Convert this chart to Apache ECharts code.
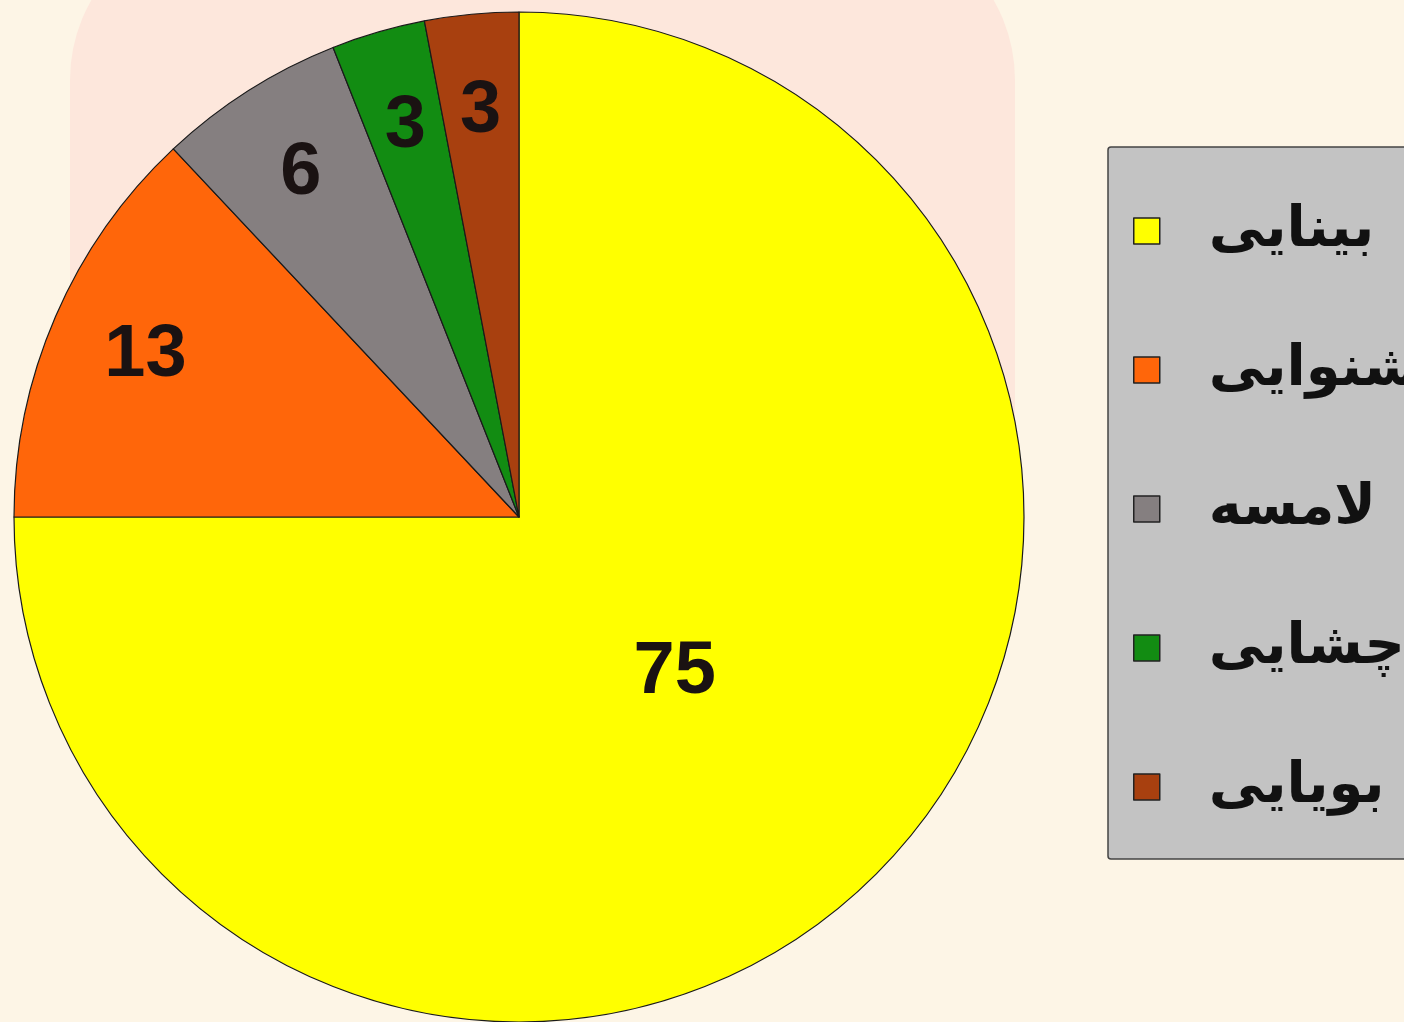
<!DOCTYPE html>
<html>
<head>
<meta charset="utf-8">
<title>pie</title>
<script src="https://cdn.jsdelivr.net/npm/echarts@6/dist/echarts.min.js"></script>
<style>
  html, body { margin: 0; padding: 0; background: #fdf5e6; }
  #main { width: 1404px; height: 1022px; }
</style>
</head>
<body>
<div id="main"></div>
<script>
// data
var names = ['بینایی', 'شنوایی', 'لامسه', 'چشایی', 'بویایی'];
var values = [75, 13, 6, 3, 3];
var colors = ['#ffff00', '#ff660a', '#857f80', '#128c12', '#a8400f'];

var chart = echarts.init(document.getElementById('main'));

var cx = 519, cy = 517, R = 505;

var mainData = names.map(function (n, i) {
    return { name: n, value: values[i], itemStyle: { color: colors[i] } };
});
// label-only rings: small slices labelled near the rim, big one nearer the middle
var rimLabels = names.map(function (n, i) {
    return { name: n, value: values[i], label: { show: i !== 0 } };
});
var midLabels = names.map(function (n, i) {
    return { name: n, value: values[i], label: { show: i === 0 } };
});

var labelFont = {
    color: '#1a1212',
    fontSize: 74,
    fontWeight: 'bold',
    fontFamily: 'Liberation Sans, Arial, sans-serif'
};

function labelRing(radius, data) {
    return {
        type: 'pie',
        center: [cx, cy],
        radius: radius,
        startAngle: 90,
        clockwise: true,
        silent: true,
        avoidLabelOverlap: false,
        itemStyle: { color: 'rgba(0,0,0,0)', borderWidth: 0 },
        label: Object.assign({ position: 'inside', formatter: '{c}' }, labelFont),
        labelLine: { show: false },
        emphasis: { disabled: true },
        data: data
    };
}

chart.setOption({
    backgroundColor: '#fdf5e6',
    animation: false,
    graphic: [{
        type: 'rect',
        z: -10,
        shape: { x: 70, y: -80, width: 945, height: 710, r: 160 },
        style: { fill: '#fde7dc' },
        silent: true
    }],
    legend: {
        orient: 'vertical',
        left: 1108,
        top: 147,
        data: names,
        icon: 'rect',
        itemWidth: 26,
        itemHeight: 26,
        itemGap: 75,
        padding: [52, 120, 40, 25],
        backgroundColor: '#c3c3c3',
        borderColor: '#444',
        borderWidth: 1.5,
        borderRadius: 3,
        selectedMode: false,
        itemStyle: { borderColor: '#222', borderWidth: 1.5 },
        textStyle: {
            color: '#111',
            fontSize: 56,
            fontWeight: 'bold',
            fontFamily: 'DejaVu Sans, sans-serif',
            lineHeight: 64,
            padding: [0, 0, 0, 44]
        }
    },
    series: [{
        type: 'pie',
        center: [cx, cy],
        radius: [0, R],
        startAngle: 90,
        clockwise: true,
        avoidLabelOverlap: false,
        itemStyle: { borderColor: '#1a1a1a', borderWidth: 1.2 },
        label: { show: false },
        labelLine: { show: false },
        emphasis: { disabled: true },
        data: mainData
    },
    labelRing([R * 0.6, R], rimLabels),
    labelRing([0, R * 0.86], midLabels)]
});
</script>
</body>
</html>
